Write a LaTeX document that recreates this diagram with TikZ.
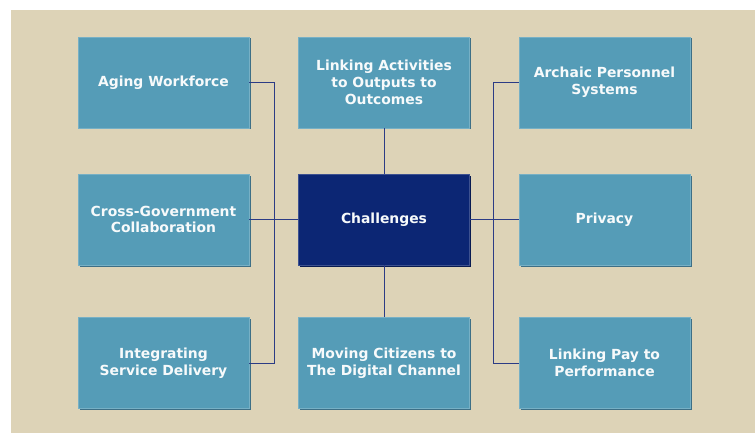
\documentclass[tikz,border=0pt]{standalone}
\usepackage{fontspec}
\setmainfont{DejaVu Sans}
\usepackage{xcolor}
\usepackage{tikz}
\usetikzlibrary{shadows}

\definecolor{sand}{HTML}{DDD3B7}
\definecolor{teal}{HTML}{559CB7}
\definecolor{tealdark}{HTML}{3D6F86}
\definecolor{navy}{HTML}{0C2674}
\definecolor{wire}{HTML}{2B3B85}

\tikzset{
  topic/.style={rectangle, fill=teal, draw=teal!80!white, line width=0.6pt, text=white!95!teal,
    minimum width=171pt, minimum height=91pt, inner sep=0pt, align=center,
    font=\fontsize{13.9}{16.8}\selectfont\bfseries,
    drop shadow={shadow xshift=1.5pt, shadow yshift=-1.5pt, fill=tealdark, opacity=1}},
  hub/.style={topic, fill=navy, draw=navy!80!white, drop shadow={shadow xshift=1.5pt, shadow yshift=-1.5pt, fill=navy!70!black, opacity=1}},
  wire/.style={draw=wire, line width=1pt}
}

\begin{document}
\begin{tikzpicture}[-,auto,node distance=220.5pt]
\useasboundingbox (0,0) rectangle (755pt,-433pt);
\fill[white] (0,0) rectangle (755pt,-433pt);
\fill[sand] (11pt,-10pt) rectangle (755pt,-433pt);

\node[topic] (aging) at (163.5pt,-82.5pt) {Aging Workforce};
\node[topic] (linkact) [right of=aging] {Linking Activities\\to Outputs to\\Outcomes};
\node[topic] (archaic) [right of=linkact] {Archaic Personnel\\Systems};
\node[topic] (crossgov) [below of=aging, node distance=137pt] {Cross-Government\\Collaboration};
\node[hub] (chall) [right of=crossgov] {Challenges};
\node[topic] (privacy) [right of=chall] {Privacy};
\node[topic] (integ) [below of=crossgov, node distance=143.5pt] {Integrating\\Service Delivery};
\node[topic] (moving) [right of=integ] {Moving Citizens to\\The Digital Channel};
\node[topic] (linkpay) [right of=moving] {Linking Pay to\\Performance};

\path[every edge/.style={wire}]
(chall) edge (crossgov)
	edge (privacy)
	edge (linkact)
	edge (moving);

\draw[wire] (aging.east) -- ++(25pt,0) |- (integ.east);
\draw[wire] (archaic.west) -- ++(-25pt,0) |- (linkpay.west);
\end{tikzpicture}
\end{document}
